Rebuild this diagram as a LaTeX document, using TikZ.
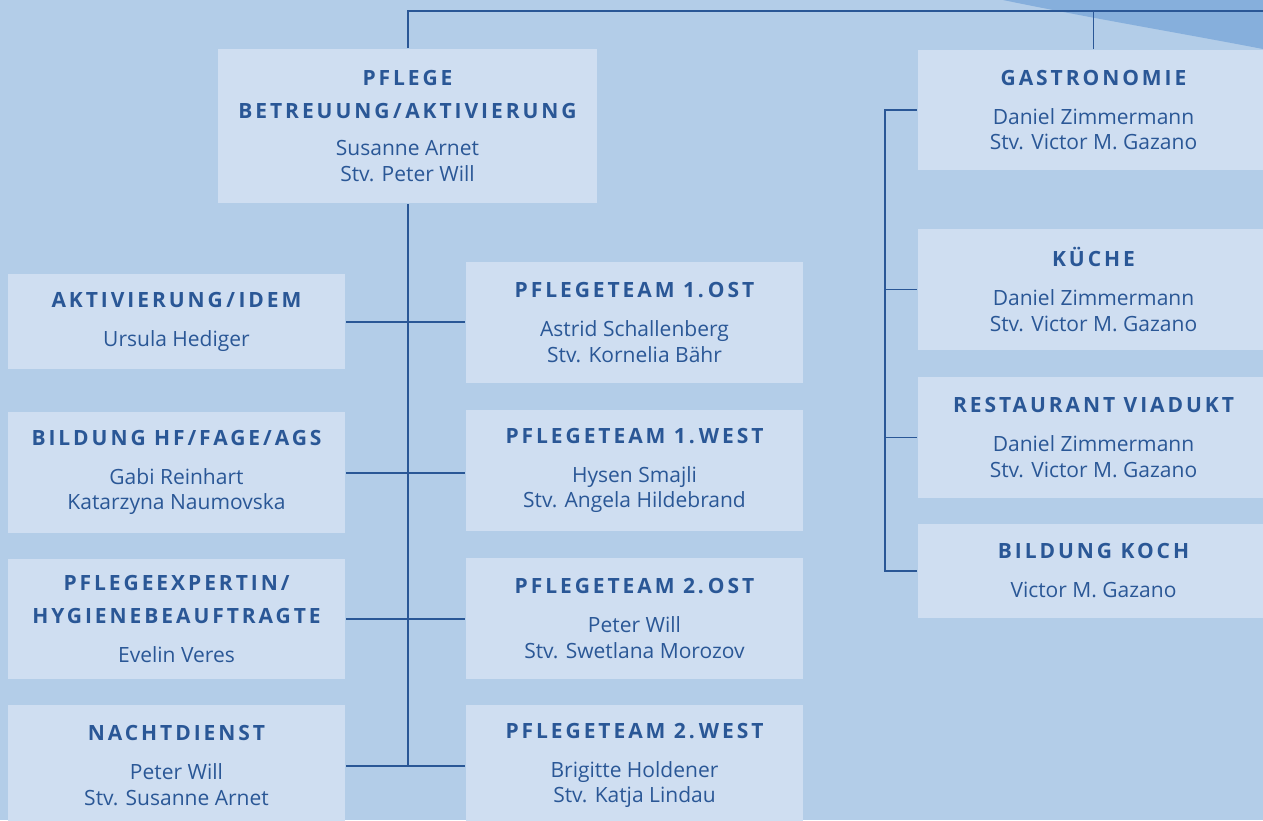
\documentclass[tikz,border=0pt]{standalone}
\usepackage{fontspec}
\setmainfont{Open Sans}
\newfontfamily\headfont[LetterSpace=14]{Open Sans}
\usepackage{tikz}
\usetikzlibrary{positioning}

\definecolor{bgblue}{HTML}{B3CDE8}
\definecolor{boxblue}{HTML}{CFDEF1}
\definecolor{wedgeblue}{HTML}{86AFDC}
\definecolor{inkblue}{HTML}{2A5796}

\newcommand{\hd}[1]{{\headfont\bfseries #1}}

\begin{document}
\begin{tikzpicture}[x=1pt,y=-1pt,line width=2pt,
    unit/.style={fill=boxblue,text=inkblue,align=center,inner sep=0pt,
      minimum width=337pt,minimum height=121pt,
      font=\fontsize{21}{25.5}\selectfont},
    link/.style={draw=inkblue}]
  \fill[bgblue] (0,0) rectangle (1263,820);
  \useasboundingbox (0,0) rectangle (1263,820);
  \fill[wedgeblue] (1003,0) .. controls (1090,18) and (1180,33) .. (1263,49) -- (1263,0) -- cycle;

  % Pflege
  \node[unit,minimum width=379pt,minimum height=154pt] (pflege) at (407.5,126)
    {\hd{PFLEGE}\\[7.5pt]\hd{BETREUUNG\,/\,AKTIVIERUNG}\\[11.5pt]Susanne Arnet\\Stv. Peter Will};

  \node[unit,minimum height=95pt] (aktiv) at (176.5,321.5) {\hd{AKTIVIERUNG\,/\,IDEM}\\[13.5pt]Ursula Hediger};
  \node[unit] (bildung) at (176.5,472.5) {\hd{BILDUNG HF/FAGE/AGS}\\[13.5pt]Gabi Reinhart\\Katarzyna Naumovska};
  \node[unit,minimum height=120pt] (expert) at (176.5,619)
    {\hd{PFLEGEEXPERTIN/}\\[7.5pt]\hd{HYGIENEBEAUFTRAGTE}\\[13.5pt]Evelin Veres};
  \node[unit] (nacht) at (176.5,765.5) {\hd{NACHTDIENST}\\[13.5pt]Peter Will\\Stv. Susanne Arnet};

  \node[unit] (ost1) at (634.5,322.5) {\hd{PFLEGETEAM 1.\kern4pt OST}\\[13.5pt]Astrid Schallenberg\\Stv. Kornelia Bähr};
  \node[unit] (west1) at (634.5,470.5) {\hd{PFLEGETEAM 1.\kern4pt WEST}\\[13.5pt]Hysen Smajli\\Stv. Angela Hildebrand};
  \node[unit] (ost2) at (634.5,618.5) {\hd{PFLEGETEAM 2.\kern4pt OST}\\[13.5pt]Peter Will\\Stv. Swetlana Morozov};
  \node[unit] (west2) at (634.5,765.5) {\hd{PFLEGETEAM 2.\kern4pt WEST}\\[13.5pt]Brigitte Holdener\\Stv. Katja Lindau};

  % Gastronomie
  \node[unit,minimum width=352pt,minimum height=120pt] (gastro) at (1093.5,110)
    {\hd{GASTRONOMIE}\\[13.5pt]Daniel Zimmermann\\Stv. Victor M. Gazano};
  \node[unit,minimum width=352pt] (kueche) at (1093.5,289.5)
    {\hd{KÜCHE}\\[13.5pt]Daniel Zimmermann\\Stv. Victor M. Gazano};
  \node[unit,minimum width=352pt] (viadukt) at (1093.5,437.5)
    {\hd{RESTAURANT VIADUKT}\\[13.5pt]Daniel Zimmermann\\Stv. Victor M. Gazano};
  \node[unit,minimum width=352pt,minimum height=94pt] (koch) at (1093.5,571)
    {\hd{BILDUNG KOCH}\\[13.5pt]Victor M. Gazano};

  \coordinate (topend) at (1263,11);
  \coordinate (brk) at (885,0);

  \draw[link] (pflege.north) |- (topend);
  \draw[link,line width=1pt] (gastro.north) -- (gastro.north |- topend);
  \draw[link] (pflege.south) -- (pflege.south |- nacht.east);
  \draw[link] (aktiv.east) -- (aktiv.east -| ost1.west);
  \draw[link] (bildung.east) -- (bildung.east -| west1.west);
  \draw[link] (expert.east) -- (expert.east -| ost2.west);
  \draw[link] (nacht.east) -- (west2.west);

  \draw[link,line width=1.4pt] (gastro.west) -- (gastro.west -| brk) -- (koch.west -| brk) -- (koch.west);
  \draw[link,line width=1.4pt] (kueche.west) -- (kueche.west -| brk);
  \draw[link,line width=1.4pt] (viadukt.west) -- (viadukt.west -| brk);
\end{tikzpicture}
\end{document}
